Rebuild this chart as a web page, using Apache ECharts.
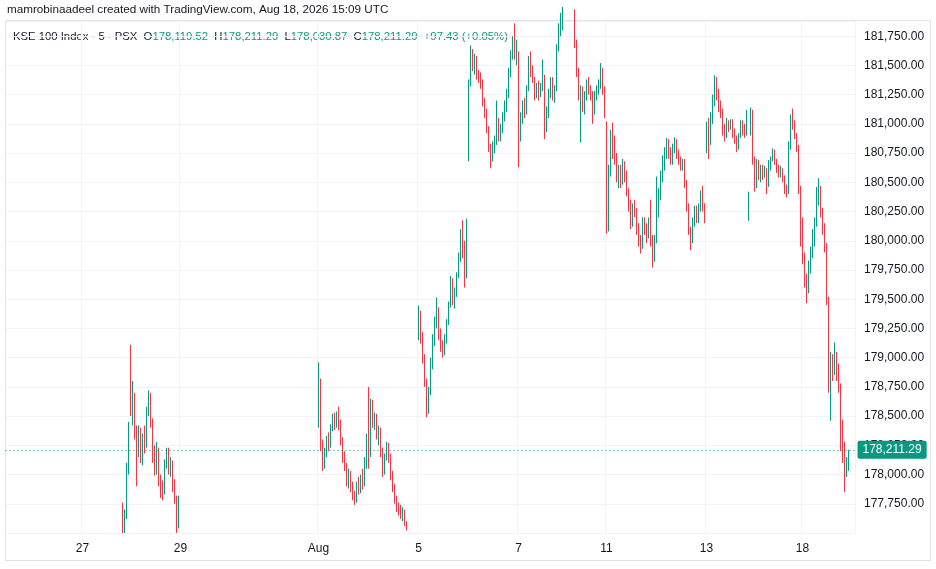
<!DOCTYPE html>
<html>
<head>
<meta charset="utf-8">
<title>KSE 100 Index · 5 · PSX</title>
<script src="https://cdn.jsdelivr.net/npm/echarts@6/dist/echarts.min.js"></script>
<style>
    html, body { margin: 0; padding: 0; background: #fff; }
    #chart { width: 936px; height: 569px; }
</style>
</head>
<body>
<div id="chart"></div>
<script>
// 5-minute candles, each row is [open, close, low, high] (ECharts order).
var jul27 = [
    [177700, 177550, 177500, 177760], [177550, 177650, 177500, 177700],
    [177650, 178050, 177620, 178100], [178050, 178400, 178000, 178450]
];
var jul28 = [
    [178800, 178560, 178500, 179110], [178560, 178650, 178420, 178800], [178650, 178350, 178300, 178700],
    [178350, 178200, 177900, 178420], [178200, 178380, 178150, 178420], [178380, 178150, 178100, 178400],
    [178150, 178300, 178080, 178350], [178300, 178250, 178180, 178420], [178250, 178550, 178230, 178580],
    [178550, 178650, 178500, 178720], [178650, 178450, 178400, 178700], [178450, 178150, 178100, 178480],
    [178150, 178050, 177990, 178250], [178050, 178200, 178000, 178280], [178200, 177950, 177900, 178230],
    [177950, 177880, 177800, 178000], [177880, 177850, 177780, 177950], [177850, 178100, 177830, 178130],
    [178100, 178200, 178050, 178230], [178200, 178050, 178000, 178230], [178050, 178100, 177980, 178150],
    [178100, 177900, 177850, 178120], [177900, 177800, 177750, 177960], [177800, 177560, 177500, 177820],
    [177560, 177800, 177540, 177820]
];
var aug03 = [
    [178420, 178880, 178400, 178960], [178800, 178250, 178200, 178820], [178250, 178080, 178030, 178300],
    [178080, 178200, 178050, 178230], [178200, 178300, 178150, 178330], [178300, 178250, 178200, 178360],
    [178250, 178400, 178230, 178430], [178400, 178480, 178370, 178520], [178480, 178430, 178380, 178530],
    [178430, 178500, 178400, 178540], [178500, 178450, 178380, 178580], [178450, 178300, 178250, 178470],
    [178300, 178150, 178100, 178320], [178150, 178080, 178030, 178200], [178080, 177950, 177900, 178100],
    [177950, 178000, 177880, 178050], [178000, 177900, 177850, 178030], [177900, 177820, 177780, 177940],
    [177820, 177780, 177740, 177860], [177780, 177900, 177760, 177940], [177900, 177880, 177830, 177980],
    [177880, 177950, 177840, 178000], [177950, 177920, 177870, 178050], [177920, 178100, 177900, 178150],
    [178100, 178280, 178050, 178350]
];
var aug04 = [
    [178720, 178200, 178050, 178750], [178200, 178600, 178150, 178650], [178600, 178450, 178400, 178640],
    [178450, 178500, 178380, 178530], [178500, 178350, 178300, 178520], [178350, 178380, 178250, 178420],
    [178380, 178200, 178150, 178400], [178200, 178030, 177980, 178230], [178030, 178150, 178000, 178180],
    [178150, 178250, 178120, 178280], [178250, 178150, 178100, 178270], [178150, 178000, 177950, 178180],
    [178000, 177900, 177850, 178030], [177900, 177780, 177750, 177920], [177780, 177720, 177680, 177820],
    [177720, 177700, 177650, 177760], [177700, 177650, 177620, 177740], [177650, 177680, 177600, 177720],
    [177680, 177580, 177560, 177700], [177580, 177540, 177520, 177600]
];
var aug05 = [
    [179170, 179380, 179150, 179445], [179380, 179200, 179120, 179400], [179200, 179000, 178950, 179220],
    [179000, 178800, 178750, 179030], [178800, 178580, 178490, 178820], [178580, 178700, 178520, 178750],
    [178700, 178950, 178680, 179000], [178950, 179150, 178900, 179200], [179150, 179300, 179100, 179350],
    [179300, 179400, 179250, 179515], [179400, 179200, 179150, 179430], [179200, 179100, 179050, 179250],
    [179100, 179050, 179000, 179150], [179050, 179150, 179020, 179200], [179150, 179300, 179120, 179330],
    [179300, 179450, 179280, 179480], [179450, 179650, 179430, 179700], [179650, 179500, 179450, 179680],
    [179500, 179550, 179420, 179600], [179550, 179700, 179520, 179730], [179700, 179850, 179680, 179900],
    [179850, 180050, 179820, 180100], [180050, 179900, 179850, 180175], [179900, 179700, 179600, 180000],
    [179700, 180000, 179680, 180190]
];
var aug06 = [
    [180690, 181350, 180680, 181380], [181350, 181600, 181320, 181670], [181600, 181500, 181450, 181640],
    [181500, 181560, 181420, 181600], [181560, 181420, 181380, 181580], [181420, 181400, 181350, 181460],
    [181400, 181350, 181300, 181440], [181350, 181200, 181150, 181380], [181200, 181100, 181050, 181220],
    [181100, 180950, 180920, 181130], [180950, 180800, 180760, 180980], [180800, 180700, 180620, 180830],
    [180700, 180800, 180680, 180850], [180800, 180850, 180750, 180900], [180850, 181000, 180820, 181200],
    [181000, 180880, 180850, 181050], [180880, 180950, 180850, 181000], [180950, 181050, 180920, 181100],
    [181050, 181150, 181020, 181200], [181150, 181250, 181100, 181300], [181250, 181450, 181220, 181480],
    [181450, 181600, 181400, 181630], [181600, 181700, 181550, 181750], [181700, 181580, 181550, 181860],
    [181580, 181650, 181500, 181720]
];
var aug07 = [
    [181600, 180900, 180630, 181620], [180900, 181050, 180850, 181100], [181050, 181150, 181000, 181200],
    [181150, 181100, 181050, 181220], [181100, 181300, 181080, 181330], [181300, 181500, 181280, 181580],
    [181500, 181450, 181400, 181620], [181450, 181380, 181350, 181500], [181380, 181250, 181200, 181400],
    [181250, 181300, 181220, 181350], [181300, 181250, 181200, 181370], [181250, 181300, 181230, 181350],
    [181300, 181400, 181280, 181550], [181400, 180950, 180870, 181420], [180950, 181100, 180930, 181150],
    [181100, 181250, 181050, 181300], [181250, 181380, 181220, 181400], [181380, 181250, 181200, 181400],
    [181250, 181300, 181180, 181330], [181300, 181650, 181280, 181680], [181650, 181800, 181620, 181860],
    [181800, 181850, 181750, 181950]
];
var aug10 = [
    [181850, 181950, 181800, 182000], [181950, 182050, 181920, 182100], [182050, 182000, 181950, 182120],
    [182000, 182080, 181950, 182150], [182080, 182000, 181930, 182100], [182000, 181950, 181900, 182050],
    [181950, 181700, 181650, 181980], [181700, 181450, 181400, 181720], [181450, 181250, 181200, 181480],
    [181250, 181300, 180840, 181330], [181300, 181150, 181100, 181320], [181150, 181250, 181080, 181280],
    [181250, 181350, 181200, 181380], [181350, 181300, 181250, 181400], [181300, 181250, 181200, 181330],
    [181250, 181100, 181000, 181280], [181100, 181250, 181080, 181280], [181250, 181300, 181200, 181330],
    [181300, 181350, 181250, 181380], [181350, 181450, 181300, 181520], [181450, 181300, 181250, 181480],
    [181300, 181100, 181050, 181320]
];
var aug11 = [
    [181000, 180100, 180060, 181020], [180100, 180600, 180080, 180650], [180600, 180900, 180550, 180950],
    [180900, 180850, 180700, 181010], [180850, 180700, 180650, 180900], [180700, 180550, 180500, 180750],
    [180550, 180600, 180450, 180650], [180600, 180500, 180450, 180650], [180500, 180650, 180480, 180700],
    [180650, 180550, 180500, 180680], [180550, 180420, 180380, 180600], [180420, 180300, 180250, 180450],
    [180300, 180150, 180100, 180350], [180150, 180280, 180120, 180320], [180280, 180250, 180200, 180350],
    [180250, 180100, 180050, 180280], [180100, 180000, 179950, 180150], [180000, 179950, 179890, 180050],
    [179950, 180150, 179930, 180200], [180150, 180100, 180050, 180200], [180100, 180050, 179980, 180150],
    [180050, 180150, 180020, 180200], [180150, 180000, 179950, 180350], [180000, 179850, 179770, 180050],
    [179850, 180000, 179820, 180050]
];
var aug12 = [
    [180000, 180250, 179980, 180550], [180250, 180400, 180200, 180450], [180400, 180550, 180350, 180600],
    [180550, 180700, 180500, 180730], [180700, 180750, 180600, 180800], [180750, 180850, 180700, 180880],
    [180850, 180750, 180700, 180870], [180750, 180680, 180650, 180800], [180680, 180800, 180650, 180830],
    [180800, 180850, 180750, 180885], [180850, 180750, 180700, 180870], [180750, 180700, 180650, 180780],
    [180700, 180650, 180600, 180720], [180650, 180680, 180600, 180700], [180680, 180500, 180450, 180700],
    [180500, 180300, 180250, 180520], [180300, 180100, 180050, 180320], [180100, 180000, 179920, 180120],
    [180000, 180150, 179980, 180200], [180150, 180250, 180120, 180300], [180250, 180200, 180150, 180300],
    [180200, 180280, 180150, 180320], [180280, 180400, 180250, 180430], [180400, 180300, 180250, 180470],
    [180300, 180220, 180150, 180320]
];
var aug13 = [
    [180780, 181000, 180750, 181020], [181000, 180850, 180700, 181050], [180850, 181050, 180820, 181100],
    [181050, 181200, 181000, 181250], [181200, 181380, 181150, 181415], [181380, 181250, 181200, 181400],
    [181250, 181150, 181100, 181300], [181150, 181100, 181050, 181200], [181100, 180950, 180900, 181130],
    [180950, 180900, 180850, 181000], [180900, 181000, 180880, 181050], [181000, 180980, 180930, 181030],
    [180980, 181020, 180950, 181040], [181020, 180930, 180880, 181040], [180930, 180880, 180830, 180960],
    [180880, 180800, 180760, 180900], [180800, 180900, 180780, 180920], [180900, 181000, 180880, 181030],
    [181000, 180950, 180900, 181030], [180950, 180920, 180880, 181000], [180920, 181050, 180900, 181120],
    [180200, 180400, 180170, 180420], [180950, 181100, 180900, 181140]
];
var aug17 = [
    [181100, 180700, 180650, 181120], [180700, 180480, 180420, 180720], [180480, 180650, 180450, 180700],
    [180650, 180580, 180520, 180690], [180580, 180620, 180500, 180650], [180620, 180560, 180520, 180650],
    [180560, 180600, 180540, 180640], [180600, 180480, 180400, 180620], [180480, 180650, 180460, 180690],
    [180650, 180700, 180600, 180720], [180700, 180760, 180680, 180790], [180760, 180680, 180650, 180780],
    [180680, 180620, 180580, 180700], [180620, 180580, 180540, 180650], [180580, 180600, 180540, 180640],
    [180600, 180530, 180500, 180620], [180530, 180450, 180400, 180560], [180450, 180420, 180370, 180480],
    [180420, 180800, 180400, 180850], [180800, 181050, 180780, 181080], [181050, 181000, 180950, 181130],
    [181000, 180900, 180870, 181030], [180900, 180800, 180760, 180920], [180800, 180450, 180400, 180820],
    [180450, 180050, 179950, 180470]
];
var aug18 = [
    [180050, 179850, 179800, 180200], [179850, 179650, 179600, 179900], [179650, 179580, 179465, 179720],
    [179580, 179750, 179550, 179830], [179750, 179900, 179720, 179950], [179900, 180050, 179850, 180100],
    [180050, 180150, 179950, 180200], [180150, 180400, 180120, 180460], [180400, 180450, 180300, 180535],
    [180450, 180250, 180200, 180470], [180250, 180100, 180050, 180280], [180100, 179950, 179900, 180150],
    [179950, 179500, 179450, 179980], [179500, 178800, 178700, 179520], [178800, 178950, 178460, 179050],
    [178950, 178900, 178800, 179030], [178900, 179000, 178850, 179130], [179000, 178900, 178800, 179050],
    [178900, 178750, 178700, 178950], [178750, 178300, 178200, 178780], [178300, 178250, 178100, 178470],
    [178250, 178050, 177850, 178280], [178050, 178113.86, 177980, 178150],
    [178119.52, 178211.29, 178030.87, 178211.29]
];

// Session layout: name, number of 5-min slots on the axis, empty slots before the first candle.
var dayNames = ['', '27', '28', '29', '30', '31', 'Aug', '4', '5', '6', '7', '10', '11', '12', '13', '17', '18', ''];
var daySlots = [38, 24, 25, 23, 23, 23, 25, 25, 25, 25, 22, 22, 25, 25, 23, 25, 24, 3];
var dayLead  = [0, 20, 0, 0, 0, 0, 0, 0, 0, 0, 0, 0, 0, 0, 0, 0, 0, 0];
var dayCandles = [[], jul27, jul28, [], [], [], aug03, aug04, aug05, aug06, aug07,
    aug10, aug11, aug12, aug13, aug17, aug18, []];
var labelledDays = ['27', '29', 'Aug', '5', '7', '11', '13', '18'];

var UP = '#089981', DOWN = '#f23645', TEXT = '#131722', GRID = '#f0f3fa';
var FONT = '"Liberation Sans", Arial, sans-serif';
var LEGEND_SIZE = 11.3;

function fmt(v) {
    return v.toLocaleString('en-US', { minimumFractionDigits: 2, maximumFractionDigits: 2 });
}

var cats = [], candles = [], tickText = [];
dayNames.forEach(function (name, d) {
    for (var s = 0; s < daySlots[d]; s++) {
        cats.push(d + '-' + s);
        tickText.push(s === 0 && labelledDays.indexOf(name) >= 0 ? name : '');
        var c = dayCandles[d][s - dayLead[d]];
        candles.push(c ? c : ['-', '-', '-', '-']);
    }
});
function showTick(i) { return tickText[i] !== ''; }

var last = aug18[aug18.length - 1];
var prevClose = aug18[aug18.length - 2][1];
var change = last[1] - prevClose;
var sign = change >= 0 ? '+' : '';

var legendText = '{n|KSE 100 Index · 5 · PSX}  {n|O}{v|' + fmt(last[0]) + '}  {n|H}{v|' + fmt(last[3]) +
    '}  {n|L}{v|' + fmt(last[2]) + '}  {n|C}{v|' + fmt(last[1]) + '}  {v|' + sign + change.toFixed(2) +
    ' (' + sign + (change / prevClose * 100).toFixed(2) + '%)}';

var chart = echarts.init(document.getElementById('chart'));
chart.setOption({
    animation: false,
    textStyle: { fontFamily: FONT },
    grid: { left: 5.5, right: 80.5, top: 21, bottom: 36 },
    xAxis: {
        type: 'category',
        data: cats,
        axisLine: { show: false },
        axisTick: { show: false },
        axisLabel: {
            interval: showTick,
            formatter: function (v, i) { return tickText[i]; },
            color: TEXT, fontSize: 12, margin: 10, fontFamily: FONT
        },
        splitLine: { show: true, interval: showTick, lineStyle: { color: GRID, width: 1 } }
    },
    yAxis: {
        type: 'value',
        position: 'right',
        min: 177500,
        max: 181880,
        interval: 250,
        axisLine: { show: false },
        axisTick: { show: false },
        axisLabel: {
            showMinLabel: false, showMaxLabel: false,
            formatter: fmt, color: TEXT, fontSize: 12, margin: 8.5, fontFamily: FONT
        },
        splitLine: { lineStyle: { color: GRID, width: 1 } }
    },
    series: [{
        type: 'candlestick',
        data: candles,
        barWidth: 0.8,
        clip: true,
        itemStyle: {
            color: UP, color0: DOWN,
            borderColor: UP, borderColor0: DOWN,
            borderWidth: 1
        },
        markLine: {
            silent: true,
            symbol: 'none',
            z: 10,
            data: [{ yAxis: last[1] }],
            lineStyle: { color: UP, type: [1, 3], width: 1 },
            label: {
                position: 'end',
                distance: 2,
                formatter: fmt(last[1]),
                color: '#fff',
                backgroundColor: UP,
                padding: [3, 5, 3, 5],
                borderRadius: 2,
                fontSize: 12,
                fontFamily: FONT
            }
        }
    }],
    graphic: [
        {
            type: 'rect', silent: true,
            shape: { x: 5.5, y: 20.5, width: 925, height: 540 },
            style: { fill: null, stroke: '#e0e3eb', lineWidth: 1 }
        },
        {
            type: 'text', left: 7, top: 4, silent: true,
            style: {
                text: 'mamrobinaadeel created with TradingView.com, Aug 18, 2026 15:09 UTC',
                fill: TEXT, fontSize: 11.7, fontFamily: FONT
            }
        },
        {
            type: 'text', left: 13, top: 31, silent: true,
            style: {
                text: legendText,
                fill: TEXT, fontSize: LEGEND_SIZE, fontFamily: FONT,
                rich: {
                    n: { fill: TEXT, fontSize: LEGEND_SIZE, fontFamily: FONT },
                    v: { fill: UP, fontSize: LEGEND_SIZE, fontFamily: FONT }
                }
            }
        }
    ]
});
</script>
</body>
</html>
